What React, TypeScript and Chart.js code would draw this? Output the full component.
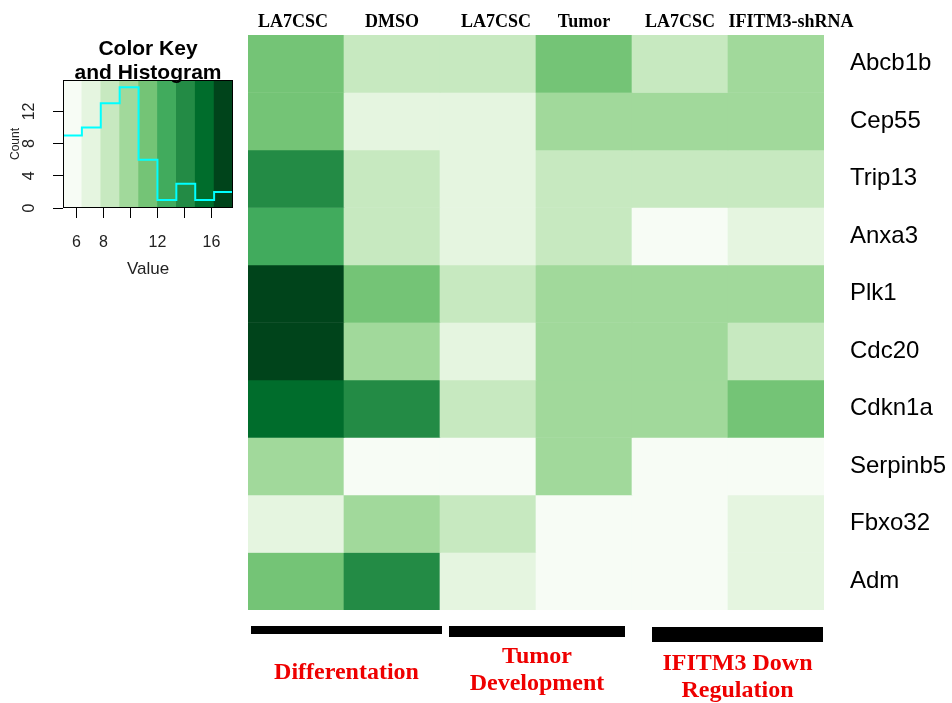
import React, { useEffect, useRef } from "react";
import { Chart, registerables } from "chart.js";

Chart.register(...registerables);
Chart.defaults.font.family = "'Liberation Sans', Arial, sans-serif";

// ---------- data ----------
const COLUMNS = ["LA7CSC", "DMSO", "LA7CSC", "Tumor", "LA7CSC", "IFITM3-shRNA"];
const GENES = ["Abcb1b", "Cep55", "Trip13", "Anxa3", "Plk1", "Cdc20", "Cdkn1a", "Serpinb5", "Fbxo32", "Adm"];

const ABCB1B = [11.4, 8.6, 8.4, 11.2, 8.7, 10.1];
const CEP55 = [11.1, 7.2, 7.0, 9.8, 10.0, 9.7];
const TRIP13 = [14.2, 8.3, 7.4, 8.8, 8.5, 8.9];
const ANXA3 = [12.8, 8.6, 7.1, 8.4, 5.6, 6.9];
const PLK1 = [17.6, 11.5, 8.2, 9.9, 10.2, 9.6];
const CDC20 = [17.1, 10.3, 7.3, 10.0, 9.8, 8.7];
const CDKN1A = [15.6, 14.0, 8.9, 10.1, 9.5, 11.0];
const SERPINB5 = [9.7, 5.8, 6.0, 10.3, 5.4, 5.0];
const FBXO32 = [7.1, 9.9, 8.1, 5.9, 6.2, 7.5];
const ADM = [11.6, 14.3, 7.2, 5.7, 5.5, 6.8];
const VALUES = [ABCB1B, CEP55, TRIP13, ANXA3, PLK1, CDC20, CDKN1A, SERPINB5, FBXO32, ADM];

const KEY_BREAKS = [5.0, 6.4, 7.8, 9.2, 10.6, 12.0, 13.4, 14.8, 16.2, 17.6];
const HIST_COUNTS = [9, 10, 13, 15, 6, 1, 3, 1, 2];
const KEY_X_TICKS = [6, 8, 10, 12, 14, 16];
const KEY_X_LABELS = [6, 8, 12, 16];
const KEY_Y_TICKS = [0, 2, 4, 6, 8, 10, 12, 14];
const KEY_Y_LABELS = [0, 4, 8, 12];
const KEY_Y_MAX = 15.9;

const GROUP_LABELS = [["Differentation"], ["Tumor", "Development"], ["IFITM3 Down", "Regulation"]];
const GROUP_SPANS = [[0, 1], [2, 3], [4, 5]];

// ---------- styles ----------
const GREENS = ["#F7FCF5", "#E5F5E0", "#C7E9C0", "#A1D99B", "#74C476", "#41AB5D", "#238B45", "#006D2C", "#00441B"];
const GROUP_BAR_STYLE = [
  { insetL: 3, insetR: 2, top: 16, h: 8, text: 69 },
  { insetL: 9, insetR: -7, top: 16, h: 11, text: 53 },
  { insetL: 20, insetR: -1, top: 17, h: 15, text: 60 },
];
const COL_LABEL_SHIFT = [-3, 0, 8, 0, 0, 15];
const SERIF = "'Liberation Serif', 'Times New Roman', serif";

function colorFor(v: number): string {
  let i = 0;
  while (i < GREENS.length - 1 && v >= KEY_BREAKS[i + 1]) i++;
  return GREENS[i];
}

export default function App() {
  const keyRef = useRef<HTMLCanvasElement>(null);
  const heatRef = useRef<HTMLCanvasElement>(null);

  useEffect(() => {
    const keyChart = new Chart(keyRef.current as HTMLCanvasElement, {
      type: "bar",
      data: {
        datasets: [
          {
            type: "line",
            data: [
              ...HIST_COUNTS.map((c, i) => ({ x: KEY_BREAKS[i], y: c })),
              { x: KEY_BREAKS[KEY_BREAKS.length - 1], y: HIST_COUNTS[HIST_COUNTS.length - 1] },
            ],
            borderColor: "#00FFFF",
            borderWidth: 2,
            pointRadius: 0,
            stepped: true,
            fill: false,
            order: 1,
          } as any,
          {
            type: "bar",
            data: GREENS.map((_, i) => ({ x: (KEY_BREAKS[i] + KEY_BREAKS[i + 1]) / 2, y: [0, KEY_Y_MAX] })),
            backgroundColor: GREENS,
            borderWidth: 0,
            barPercentage: 1,
            categoryPercentage: 1,
            order: 2,
          } as any,
        ],
      },
      options: {
        responsive: false,
        animation: false,
        events: [],
        layout: { padding: { top: 80, right: 12, left: 0, bottom: 0 } },
        plugins: { legend: { display: false }, tooltip: { enabled: false } },
        scales: {
          x: {
            type: "linear",
            min: KEY_BREAKS[0],
            max: KEY_BREAKS[KEY_BREAKS.length - 1],
            offset: false,
            grid: { drawOnChartArea: false, drawTicks: true, tickLength: 10, color: "#000", offset: false } as any,
            border: { display: false },
            afterBuildTicks: (s: any) => {
              s.ticks = KEY_X_TICKS.map((v) => ({ value: v }));
            },
            ticks: {
              font: { size: 16 },
              color: "#222",
              padding: 15,
              maxRotation: 0,
              autoSkip: false,
              callback: (v: any) => (KEY_X_LABELS.includes(Number(v)) ? String(v) : ""),
            },
            title: { display: true, text: "Value", font: { size: 17 }, color: "#222", padding: { top: 0, bottom: 10 } },
            afterFit: (s: any) => {
              s.height = 82;
            },
          },
          y: {
            type: "linear",
            min: 0,
            max: KEY_Y_MAX,
            grid: { drawOnChartArea: false, drawTicks: true, tickLength: 10, color: "#000" },
            border: { display: false },
            afterBuildTicks: (s: any) => {
              s.ticks = KEY_Y_TICKS.map((v) => ({ value: v }));
            },
            ticks: { color: "rgba(0,0,0,0)", font: { size: 16 } },
            title: { display: true, text: "Count", font: { size: 12 }, color: "#222", padding: { top: 8, bottom: 0 } },
            afterFit: (s: any) => {
              s.width = 63;
            },
          },
        },
      },
      plugins: [
        {
          id: "keyDecor",
          afterDraw(chart: any) {
            const { ctx, chartArea } = chart;
            const ys = chart.scales.y;
            ctx.save();
            ctx.strokeStyle = "#000";
            ctx.lineWidth = 1;
            ctx.strokeRect(
              Math.round(chartArea.left) + 0.5,
              Math.round(chartArea.top) + 0.5,
              Math.round(chartArea.right - chartArea.left) - 1,
              Math.round(chartArea.bottom - chartArea.top) - 1
            );
            ctx.fillStyle = "#222";
            ctx.font = "16px 'Liberation Sans', Arial, sans-serif";
            ctx.textAlign = "center";
            ctx.textBaseline = "middle";
            for (const v of KEY_Y_LABELS) {
              const y = ys.getPixelForValue(v);
              ctx.save();
              ctx.translate(ys.right - 33, y);
              ctx.rotate(-Math.PI / 2);
              ctx.fillText(String(v), 0, 0);
              ctx.restore();
            }
            ctx.fillStyle = "#000";
            ctx.font = "bold 21px 'Liberation Sans', Arial, sans-serif";
            ctx.textBaseline = "alphabetic";
            const cx = (chartArea.left + chartArea.right) / 2;
            ctx.fillText("Color Key", cx, chartArea.top - 25);
            ctx.fillText("and Histogram", cx, chartArea.top - 1);
            ctx.restore();
          },
        },
      ],
    });

    const heatChart = new Chart(heatRef.current as HTMLCanvasElement, {
      type: "bar",
      data: {
        labels: COLUMNS,
        datasets: GENES.map((g, r) => ({
          label: g,
          data: COLUMNS.map(() => 1),
          backgroundColor: VALUES[r].map(colorFor),
          borderWidth: 0,
          barPercentage: 1,
          categoryPercentage: 1,
          stack: "s",
        })),
      },
      options: {
        responsive: false,
        animation: false,
        events: [],
        layout: { padding: { top: 0, right: 0, left: 8, bottom: 93 } },
        plugins: { legend: { display: false }, tooltip: { enabled: false } },
        scales: {
          x: {
            position: "top",
            stacked: true,
            grid: { display: false, drawTicks: false },
            border: { display: false },
            ticks: { display: false },
            afterFit: (s: any) => {
              s.height = 35;
            },
          },
          y: { stacked: true, reverse: true, min: 0, max: GENES.length, display: false },
          genes: {
            type: "category",
            labels: GENES,
            position: "right",
            offset: true,
            grid: { display: false, drawTicks: false },
            border: { display: false },
            ticks: { font: { size: 24 }, color: "#000", padding: 26, autoSkip: false },
            afterFit: (s: any) => {
              s.width = 128;
              s.paddingTop = 0;
              s.paddingBottom = 0;
            },
          } as any,
        },
      },
      plugins: [
        {
          id: "groups",
          afterDraw(chart: any) {
            const { ctx, chartArea } = chart;
            const xs = chart.scales.x;
            const half = (xs.getPixelForValue(1) - xs.getPixelForValue(0)) / 2;
            ctx.save();
            // column labels
            ctx.fillStyle = "#000";
            ctx.font = `bold 18px ${SERIF}`;
            ctx.textAlign = "center";
            ctx.textBaseline = "alphabetic";
            COLUMNS.forEach((c, i) => {
              ctx.fillText(c, xs.getPixelForValue(i) + COL_LABEL_SHIFT[i], chartArea.top - 8);
            });
            // group bars + labels
            GROUP_SPANS.forEach((span, g) => {
              const st = GROUP_BAR_STYLE[g];
              const x0 = xs.getPixelForValue(span[0]) - half + st.insetL;
              const x1 = xs.getPixelForValue(span[1]) + half + st.insetR;
              ctx.fillStyle = "#000";
              ctx.fillRect(x0, chartArea.bottom + st.top, x1 - x0, st.h);
              ctx.fillStyle = "#EE0000";
              ctx.font = `bold 24px ${SERIF}`;
              ctx.textAlign = "center";
              ctx.textBaseline = "alphabetic";
              GROUP_LABELS[g].forEach((line, li) => {
                ctx.fillText(line, (x0 + x1) / 2, chartArea.bottom + st.text + li * 27);
              });
            });
            ctx.restore();
          },
        },
      ],
    });

    return () => {
      keyChart.destroy();
      heatChart.destroy();
    };
  }, []);

  return (
    <div style={{ position: "absolute", left: 0, top: 0, width: 952, height: 703, background: "#fff" }}>
      <canvas ref={keyRef} width={245} height={290} style={{ position: "absolute", left: 0, top: 0, display: "block" }} />
      <canvas ref={heatRef} width={712} height={703} style={{ position: "absolute", left: 240, top: 0, display: "block" }} />
    </div>
  );
}
